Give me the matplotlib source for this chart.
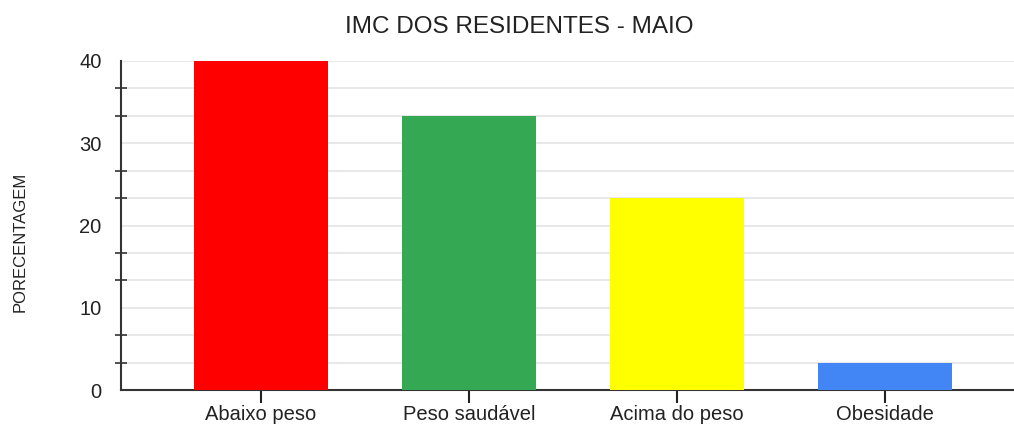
import matplotlib.pyplot as plt
from matplotlib.ticker import MultipleLocator

categories = ['Abaixo peso', 'Peso saudável', 'Acima do peso', 'Obesidade']
percentages = [40.0, 33.3, 23.3, 3.3]
bar_colors = ['#ff0000', '#34a853', '#ffff00', '#4285f4']

plt.rcParams['font.family'] = ['Liberation Sans', 'DejaVu Sans']

fig = plt.figure(figsize=(10.14, 4.24), dpi=100)
ax = fig.add_axes([121 / 1014, 1 - 390 / 424, 1 - 121 / 1014, (390 - 61) / 424])

x = range(len(categories))
ax.bar(x, percentages, width=0.645, color=bar_colors, zorder=3)

ax.set_xlim(-0.673, 3.62)
ax.set_ylim(0, 40)
ax.set_xticks(list(x))
ax.set_xticklabels(categories, fontsize=14.5, color='#222222')
ax.yaxis.set_major_locator(MultipleLocator(10))
ax.yaxis.set_minor_locator(MultipleLocator(10 / 3))
ax.tick_params(axis='y', which='major', length=0, pad=14, labelsize=14.5, labelcolor='#222222')
ax.tick_params(axis='y', which='minor', direction='inout', length=9, width=1.2, color='#333333')
ax.tick_params(axis='x', direction='inout', length=18, width=1.5, color='#222222', pad=2)

ax.grid(True, which='both', axis='y', color='#e4e4e4', linewidth=1.2, zorder=0)
for side in ['top', 'right']:
    ax.spines[side].set_visible(False)
ax.spines['left'].set_color('#333333')
ax.spines['left'].set_linewidth(1.5)
ax.spines['bottom'].set_color('#333333')
ax.spines['bottom'].set_linewidth(1.5)
ax.set_axisbelow(True)

fig.text(0.512, 1 - 27 / 424, 'IMC DOS RESIDENTES - MAIO', ha='center', va='center',
         fontsize=17.5, color='#222222')
fig.text(20 / 1014, 1 - 242 / 424, 'PORECENTAGEM', rotation=90, ha='center', va='center',
         fontsize=12, color='#222222')

fig.savefig('out.png', dpi=100)
